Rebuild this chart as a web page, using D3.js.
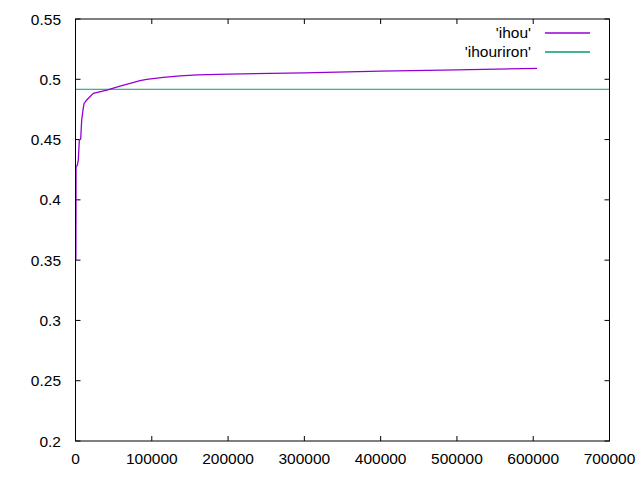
<!DOCTYPE html>
<html>
<head>
<meta charset="utf-8">
<script src="https://cdn.jsdelivr.net/npm/d3@7"></script>
<style>
html,body{margin:0;padding:0;background:#fff;}
text{font-family:"Liberation Sans",Arial,sans-serif;font-size:15.5px;fill:#000;}
</style>
</head>
<body>
<svg id="c" width="640" height="480"></svg>
<script>
const ihouX = [500, 700, 2300, 3700, 5000, 6800, 8100, 9800, 11200, 14700, 23400, 41000, 58400, 84600, 93400, 115000, 137000, 160000, 200000, 300000, 400000, 500000, 605000];
const ihouY = [0.350, 0.4275, 0.4285, 0.433, 0.4497, 0.4505, 0.466, 0.4745, 0.480, 0.4828, 0.4884, 0.4911, 0.4944, 0.4988, 0.4999, 0.5016, 0.5028, 0.5037, 0.5043, 0.5054, 0.5068, 0.5078, 0.5091];
const ihouriron = 0.4917;
const xTicks = [0, 100000, 200000, 300000, 400000, 500000, 600000, 700000];
const yTicks = [0.2, 0.25, 0.3, 0.35, 0.4, 0.45, 0.5, 0.55];
const seriesNames = ["'ihou'", "'ihouriron'"];
const colors = ["#9400d3", "#009e73"];

const L = 75.5, R = 609.5, T = 19, B = 441;
const svg = d3.select("#c");
const x = d3.scaleLinear().domain([0, 700000]).range([L, R]);
const y = d3.scaleLinear().domain([0.2, 0.55]).range([B, T]);

const tl = 5;
// ticks
const g = svg.append("g");
xTicks.forEach(v => {
  g.append("line").attr("x1", x(v)).attr("x2", x(v)).attr("y1", B).attr("y2", B - tl).attr("stroke", "#000");
  g.append("line").attr("x1", x(v)).attr("x2", x(v)).attr("y1", T).attr("y2", T + tl).attr("stroke", "#000");
  g.append("text").attr("x", x(v)).attr("y", 464).attr("text-anchor", "middle").text(d3.format("d")(v));
});
yTicks.forEach(v => {
  g.append("line").attr("x1", L).attr("x2", L + tl).attr("y1", y(v)).attr("y2", y(v)).attr("stroke", "#000");
  g.append("line").attr("x1", R).attr("x2", R - tl).attr("y1", y(v)).attr("y2", y(v)).attr("stroke", "#000");
  g.append("text").attr("x", 61).attr("y", y(v) + 5.5).attr("text-anchor", "end").text(String(+v.toFixed(2)));
});

// data
const pts = ihouX.map((d, i) => [d, ihouY[i]]);
const line = d3.line().x(d => x(d[0])).y(d => y(d[1]));
svg.append("path").datum([[0, ihouriron], [700000, ihouriron]]).attr("d", line)
  .attr("fill", "none").attr("stroke", colors[1]).attr("stroke-width", 1);
svg.append("path").datum(pts).attr("d", line)
  .attr("fill", "none").attr("stroke", colors[0]).attr("stroke-width", 1.3);

// frame
svg.append("rect").attr("x", L).attr("y", T).attr("width", R - L).attr("height", B - T)
  .attr("fill", "none").attr("stroke", "#000").attr("stroke-width", 1);

// legend
seriesNames.forEach((n, i) => {
  const by = 37.5 + i * 19;
  svg.append("text").attr("x", 531).attr("y", by).attr("text-anchor", "end").text(n);
  svg.append("line").attr("x1", 545).attr("x2", 590).attr("y1", by - 4.5).attr("y2", by - 4.5)
    .attr("stroke", colors[i]).attr("stroke-width", 1.3);
});
</script>
</body>
</html>
